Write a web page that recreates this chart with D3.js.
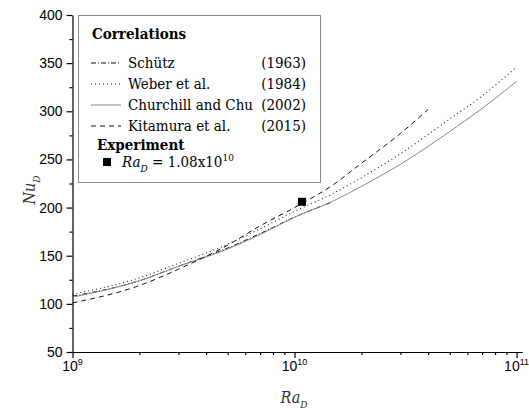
<!DOCTYPE html>
<html>
<head>
<meta charset="utf-8">
<script src="https://cdn.jsdelivr.net/npm/d3@7"></script>
<style>
  body { margin: 0; background: #fff; }
  svg { display: block; }
  .sans { font-family: "Liberation Sans", Arial, sans-serif; }
  .serif { font-family: "DejaVu Serif Condensed", "DejaVu Serif", serif; font-stretch: condensed; }
</style>
</head>
<body>
<div id="chart"></div>
<script>
// valores
var raMajor = [1e9, 1e10, 1e11];
var raExp = ["9", "10", "11"];
var nuTicks = [50, 100, 150, 200, 250, 300, 350, 400];

var schutzRa = [1e9, 2e9, 3e9, 5e9, 7e9, 1e10, 1.45e10];
var schutzNu = [108, 124, 139, 158, 173, 190, 205];

var weberRa = [1e9, 2e9, 3e9, 5e9, 7e9, 1e10, 1.5e10, 2e10, 3e10, 5e10, 7e10, 1e11];
var weberNu = [110, 127, 142, 162, 178, 196, 215, 231, 256, 292, 316, 346];

var churchillRa = [1e9, 2e9, 3e9, 5e9, 7e9, 1e10, 1.5e10, 2e10, 3e10, 5e10, 7e10, 1e11];
var churchillNu = [107, 124, 139, 157, 172, 190, 207, 222, 245, 279, 303, 331];

var kitamuraRa = [1e9, 2e9, 3e9, 5e9, 7e9, 1e10, 1.5e10, 2e10, 3e10, 4e10];
var kitamuraNu = [101, 119, 136, 161, 181, 200, 224, 246, 277, 302];

var expRa = [1.08e10];
var expNu = [206];

var legendNames = ["Schütz", "Weber et al.", "Churchill and Chu", "Kitamura et al."];
var legendYears = ["(1963)", "(1984)", "(2002)", "(2015)"];

var svg = d3.select("#chart").append("svg")
  .attr("width", 529).attr("height", 412);

var x = d3.scaleLog().domain([1e9, 1.06e11]).range([72.5, 522.2]);
var y = d3.scaleLinear().domain([50, 400]).range([352, 15]);

// estilos de las series
var series = [
  { ra: schutzRa, nu: schutzNu, color: "#111", dash: "5,2,1,2", w: 1 },
  { ra: weberRa, nu: weberNu, color: "#222", dash: "1,3", w: 1.1 },
  { ra: churchillRa, nu: churchillNu, color: "#888", dash: null, w: 1 },
  { ra: kitamuraRa, nu: kitamuraNu, color: "#111", dash: "5,4", w: 1 }
];

/* ejes */
var minorX = [];
[1e9, 1e10].forEach(function(d) {
  for (var k = 2; k <= 9; k++) minorX.push(d * k);
});
var minorY = [75, 125, 175, 225, 275, 325, 375];

var gx = svg.append("g").attr("transform", "translate(0,352)");
gx.call(d3.axisBottom(x).tickValues(raMajor).tickFormat("").tickSize(6).tickSizeOuter(0));
gx.append("g").call(d3.axisBottom(x).tickValues(minorX).tickFormat("").tickSize(3).tickSizeOuter(0))
  .select(".domain").remove();

var gy = svg.append("g").attr("transform", "translate(72.5,0)");
gy.call(d3.axisLeft(y).tickValues(nuTicks).tickSize(6).tickSizeOuter(0).tickPadding(4));
gy.append("g").call(d3.axisLeft(y).tickValues(minorY).tickFormat("").tickSize(3).tickSizeOuter(0))
  .select(".domain").remove();

svg.selectAll(".domain, .tick line").attr("stroke", "#000").attr("stroke-width", 1.2);
gy.attr("font-family", null).attr("font-size", null);
gy.selectAll(".tick text").attr("class", "sans").style("font-size", "14px").attr("fill", "#000");

// etiquetas 10^n
var xl = svg.append("g").selectAll("text").data(raMajor).enter().append("text")
  .attr("class", "sans")
  .attr("x", function(d) { return x(d); })
  .attr("y", 371)
  .attr("text-anchor", "middle")
  .style("font-size", "14px");
xl.append("tspan").text("10");
xl.append("tspan").attr("dy", -6).style("font-size", "9px")
  .text(function(d, i) { return raExp[i]; });

// titulos de ejes
var xt = svg.append("text").attr("class", "serif")
  .attr("x", 294).attr("y", 403).attr("text-anchor", "middle")
  .style("font-size", "16px").style("font-style", "italic").attr("fill", "#333");
xt.append("tspan").text("Ra");
xt.append("tspan").attr("dy", 5).style("font-size", "10px").text("D");

var yt = svg.append("text").attr("class", "serif")
  .attr("transform", "translate(35,190) rotate(-90)")
  .attr("text-anchor", "middle")
  .style("font-size", "16px").style("font-style", "italic").attr("fill", "#333");
yt.append("tspan").text("Nu");
yt.append("tspan").attr("dy", 5).style("font-size", "10px").text("D");

/* curvas */
var line = d3.line()
  .x(function(d) { return x(d[0]); })
  .y(function(d) { return y(d[1]); })
  .curve(d3.curveMonotoneX);

series.forEach(function(s) {
  svg.append("path")
    .datum(d3.zip(s.ra, s.nu))
    .attr("d", line)
    .attr("fill", "none")
    .attr("stroke", s.color)
    .attr("stroke-width", s.w)
    .attr("stroke-dasharray", s.dash);
});

// punto experimental
svg.selectAll(".exp").data(d3.zip(expRa, expNu)).enter().append("rect")
  .attr("class", "exp")
  .attr("x", function(d) { return x(d[0]) - 4; })
  .attr("y", function(d) { return y(d[1]) - 4; })
  .attr("width", 8).attr("height", 8)
  .attr("fill", "#000");

/* leyenda */
var lg = svg.append("g").attr("class", "serif");
lg.append("rect").attr("x", 78.5).attr("y", 15.5).attr("width", 242).attr("height", 167)
  .attr("fill", "#fff").attr("stroke", "#888").attr("stroke-width", 1);

lg.append("text").attr("x", 92).attr("y", 39).text("Correlations")
  .style("font-size", "15px").style("font-weight", "bold");

var rows = lg.selectAll(".row").data(series).enter().append("g")
  .attr("class", "row")
  .attr("transform", function(d, i) { return "translate(0," + (63 + i * 21) + ")"; });
rows.append("line").attr("x1", 91).attr("x2", 121).attr("y1", 0).attr("y2", 0)
  .attr("stroke", function(d) { return d.color; })
  .attr("stroke-width", function(d) { return d.w; })
  .attr("stroke-dasharray", function(d) { return d.dash; });
rows.append("text").attr("x", 128).attr("y", 5)
  .text(function(d, i) { return legendNames[i]; })
  .style("font-size", "15px");
rows.append("text").attr("x", 306).attr("y", 5).attr("text-anchor", "end")
  .text(function(d, i) { return legendYears[i]; })
  .style("font-size", "15px");

lg.append("text").attr("x", 97).attr("y", 150).text("Experiment")
  .style("font-size", "15px").style("font-weight", "bold");

lg.append("rect").attr("x", 103).attr("y", 158).attr("width", 8).attr("height", 8).attr("fill", "#000");
var rl = lg.append("text").attr("x", 122).attr("y", 167)
  .style("font-size", "15px");
rl.append("tspan").style("font-style", "italic").text("Ra");
rl.append("tspan").attr("dy", 5).style("font-size", "10px").style("font-style", "italic").text("D");
rl.append("tspan").attr("dy", -5).text(" = 1.08x10");
rl.append("tspan").attr("dy", -6).style("font-size", "10px").text("10");
</script>
</body>
</html>
